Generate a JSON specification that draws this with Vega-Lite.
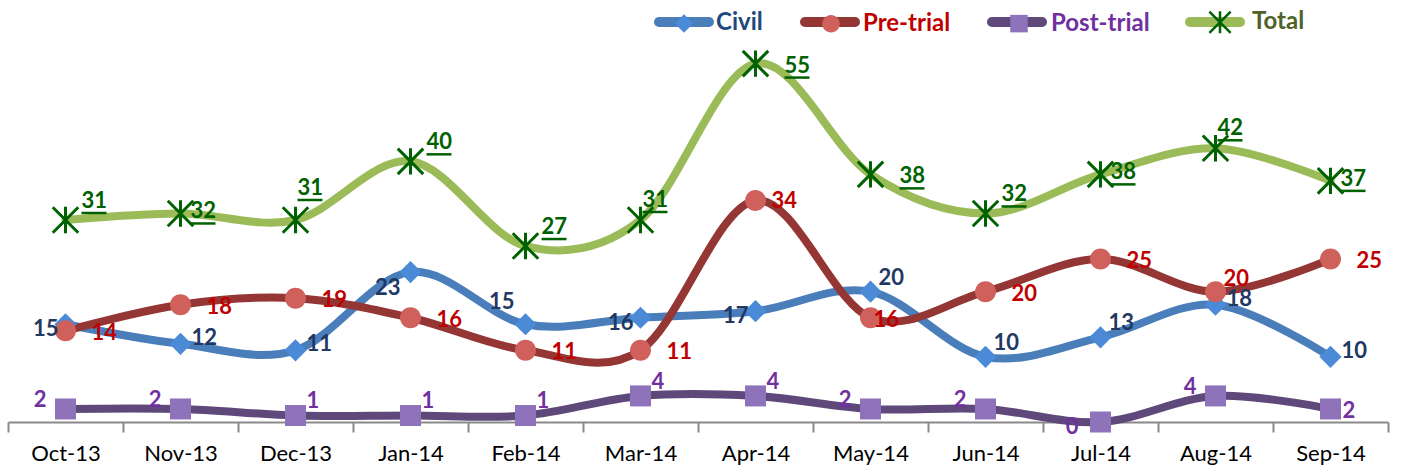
{
  "$schema": "https://vega.github.io/schema/vega-lite/v6.json",
  "width": 1380,
  "height": 391,
  "autosize": {"type": "none"},
  "padding": {"left": 8, "top": 31, "right": 14, "bottom": 51},
  "background": "white",
  "config": {"view": {"stroke": null}, "font": "Lato"},
  "data": {"values": [
    {"Month": "Oct-13", "Series": "Civil", "Value": 15},
    {"Month": "Nov-13", "Series": "Civil", "Value": 12},
    {"Month": "Dec-13", "Series": "Civil", "Value": 11},
    {"Month": "Jan-14", "Series": "Civil", "Value": 23},
    {"Month": "Feb-14", "Series": "Civil", "Value": 15},
    {"Month": "Mar-14", "Series": "Civil", "Value": 16},
    {"Month": "Apr-14", "Series": "Civil", "Value": 17},
    {"Month": "May-14", "Series": "Civil", "Value": 20},
    {"Month": "Jun-14", "Series": "Civil", "Value": 10},
    {"Month": "Jul-14", "Series": "Civil", "Value": 13},
    {"Month": "Aug-14", "Series": "Civil", "Value": 18},
    {"Month": "Sep-14", "Series": "Civil", "Value": 10},
    {"Month": "Oct-13", "Series": "Pre-trial", "Value": 14},
    {"Month": "Nov-13", "Series": "Pre-trial", "Value": 18},
    {"Month": "Dec-13", "Series": "Pre-trial", "Value": 19},
    {"Month": "Jan-14", "Series": "Pre-trial", "Value": 16},
    {"Month": "Feb-14", "Series": "Pre-trial", "Value": 11},
    {"Month": "Mar-14", "Series": "Pre-trial", "Value": 11},
    {"Month": "Apr-14", "Series": "Pre-trial", "Value": 34},
    {"Month": "May-14", "Series": "Pre-trial", "Value": 16},
    {"Month": "Jun-14", "Series": "Pre-trial", "Value": 20},
    {"Month": "Jul-14", "Series": "Pre-trial", "Value": 25},
    {"Month": "Aug-14", "Series": "Pre-trial", "Value": 20},
    {"Month": "Sep-14", "Series": "Pre-trial", "Value": 25},
    {"Month": "Oct-13", "Series": "Post-trial", "Value": 2},
    {"Month": "Nov-13", "Series": "Post-trial", "Value": 2},
    {"Month": "Dec-13", "Series": "Post-trial", "Value": 1},
    {"Month": "Jan-14", "Series": "Post-trial", "Value": 1},
    {"Month": "Feb-14", "Series": "Post-trial", "Value": 1},
    {"Month": "Mar-14", "Series": "Post-trial", "Value": 4},
    {"Month": "Apr-14", "Series": "Post-trial", "Value": 4},
    {"Month": "May-14", "Series": "Post-trial", "Value": 2},
    {"Month": "Jun-14", "Series": "Post-trial", "Value": 2},
    {"Month": "Jul-14", "Series": "Post-trial", "Value": 0},
    {"Month": "Aug-14", "Series": "Post-trial", "Value": 4},
    {"Month": "Sep-14", "Series": "Post-trial", "Value": 2},
    {"Month": "Oct-13", "Series": "Total", "Value": 31},
    {"Month": "Nov-13", "Series": "Total", "Value": 32},
    {"Month": "Dec-13", "Series": "Total", "Value": 31},
    {"Month": "Jan-14", "Series": "Total", "Value": 40},
    {"Month": "Feb-14", "Series": "Total", "Value": 27},
    {"Month": "Mar-14", "Series": "Total", "Value": 31},
    {"Month": "Apr-14", "Series": "Total", "Value": 55},
    {"Month": "May-14", "Series": "Total", "Value": 38},
    {"Month": "Jun-14", "Series": "Total", "Value": 32},
    {"Month": "Jul-14", "Series": "Total", "Value": 38},
    {"Month": "Aug-14", "Series": "Total", "Value": 42},
    {"Month": "Sep-14", "Series": "Total", "Value": 37}
  ]},
  "encoding": {
    "x": {
      "field": "Month", "type": "ordinal",
      "scale": {"type": "band", "paddingInner": 0, "paddingOuter": 0,
        "domain": ["Oct-13","Nov-13","Dec-13","Jan-14","Feb-14","Mar-14","Apr-14","May-14","Jun-14","Jul-14","Aug-14","Sep-14"]},
      "axis": {"title": null, "domainColor": "#898989", "domainWidth": 2, "ticks": true, "tickColor": "#898989", "tickWidth": 2, "tickSize": 10, "tickBand": "extent", "labelFont": "Lato", "labelFontSize": 22, "labelColor": "#000000", "labelPadding": 11, "labelAngle": 0, "grid": false}
    },
    "y": {"field": "Value", "type": "quantitative", "scale": {"domain": [0, 60], "nice": false}, "axis": null}
  },
  "layer": [
    {
      "mark": {"type": "line", "interpolate": "cardinal", "strokeWidth": 8, "strokeCap": "round", "strokeJoin": "round"},
      "encoding": {
        "stroke": {"field": "Series", "type": "nominal", "sort": null,
          "scale": {"range": ["#4A7EBB", "#943634", "#5F497A", "#9BBB59"]},
          "legend": {"title": null, "orient": "none", "legendX": 646, "legendY": -39, "direction": "horizontal", "symbolType": "stroke", "symbolSize": 2500, "symbolStrokeWidth": 10, "labelOpacity": 0, "labelFont": "Lato", "labelFontSize": 24, "labelFontWeight": "bold", "labelOffset": 2, "columnPadding": 22, "zindex": 1,
            "encode": {"symbols": {"update": {"strokeCap": {"value": "round"}}}}}
        }
      }
    },
    {
      "mark": {"type": "point", "filled": true, "size": 3600, "opacity": 1, "strokeWidth": 0},
      "encoding": {
        "fill": {"field": "Series", "type": "nominal",
          "scale": {"domain": ["Civil", "Pre-trial", "Post-trial", "Total"], "range": ["#4A8AD6", "#D0605C", "#8E72BA", "#006100"]},
          "legend": {"title": null, "orient": "none", "legendX": 646, "legendY": -39, "direction": "horizontal", "symbolSize": 2500, "symbolStrokeWidth": 10, "symbolStrokeColor": "transparent", "symbolOpacity": 1, "labelFont": "Lato", "labelFontSize": 24, "labelFontWeight": "bold", "labelOffset": 2, "columnPadding": 38, "zindex": 2,
            "encode": {"labels": {"update": {"fill": {"signal": "datum.value === 'Civil' ? '#1F497D' : datum.value === 'Pre-trial' ? '#C00000' : datum.value === 'Post-trial' ? '#7030A0' : '#4F6228'"}}}}}
        },
        "shape": {"field": "Series", "type": "nominal",
          "scale": {"domain": ["Civil", "Pre-trial", "Post-trial", "Total"], "range": [
            "M0,-0.37L0.37,0L0,0.37L-0.37,0Z",
            "M-0.35,0A0.35,0.35 0 1,0 0.35,0A0.35,0.35 0 1,0 -0.35,0Z",
            "M-0.35,-0.35H0.35V0.35H-0.35Z",
            "M-0.46,-0.39L0.39,0.46L0.46,0.39L-0.39,-0.46ZM-0.39,0.46L0.46,-0.39L0.39,-0.46L-0.46,0.39ZM-0.05,-0.44V0.44H0.05V-0.44Z"
          ]},
          "legend": {"title": null, "orient": "none", "legendX": 646, "legendY": -39, "direction": "horizontal", "symbolSize": 2500, "symbolStrokeWidth": 10, "symbolStrokeColor": "transparent", "symbolOpacity": 1, "labelFont": "Lato", "labelFontSize": 24, "labelFontWeight": "bold", "labelOffset": 2, "columnPadding": 38, "zindex": 2,
            "encode": {"labels": {"update": {"fill": {"signal": "datum.value === 'Civil' ? '#1F497D' : datum.value === 'Pre-trial' ? '#C00000' : datum.value === 'Post-trial' ? '#7030A0' : '#4F6228'"}}}}}
        }
      }
    },
    {
      "transform": [{"filter": {"and": [{"field": "Series", "equal": "Civil"}, {"field": "Month", "oneOf": ["Nov-13","Dec-13","Aug-14","Sep-14"]}]}}],
      "mark": {"type": "text", "align": "left", "baseline": "middle", "dx": 11, "dy": -6, "font": "Lato", "fontSize": 22, "fontWeight": "bold", "color": "#1F3864"},
      "encoding": {"text": {"field": "Value", "type": "quantitative"}}
    },
    {
      "transform": [{"filter": {"and": [{"field": "Series", "equal": "Civil"}, {"field": "Month", "oneOf": ["May-14","Jun-14","Jul-14"]}]}}],
      "mark": {"type": "text", "align": "left", "baseline": "middle", "dx": 8, "dy": -14, "font": "Lato", "fontSize": 22, "fontWeight": "bold", "color": "#1F3864"},
      "encoding": {"text": {"field": "Value", "type": "quantitative"}}
    },
    {
      "transform": [{"filter": {"and": [{"field": "Series", "equal": "Civil"}, {"field": "Month", "oneOf": ["Oct-13","Mar-14","Apr-14"]}]}}],
      "mark": {"type": "text", "align": "right", "baseline": "middle", "dx": -7, "dy": 5, "font": "Lato", "fontSize": 22, "fontWeight": "bold", "color": "#1F3864"},
      "encoding": {"text": {"field": "Value", "type": "quantitative"}}
    },
    {
      "transform": [{"filter": {"and": [{"field": "Series", "equal": "Civil"}, {"field": "Month", "equal": "Jan-14"}]}}],
      "mark": {"type": "text", "align": "right", "baseline": "middle", "dx": -10, "dy": 16, "font": "Lato", "fontSize": 22, "fontWeight": "bold", "color": "#1F3864"},
      "encoding": {"text": {"field": "Value", "type": "quantitative"}}
    },
    {
      "transform": [{"filter": {"and": [{"field": "Series", "equal": "Civil"}, {"field": "Month", "equal": "Feb-14"}]}}],
      "mark": {"type": "text", "align": "right", "baseline": "middle", "dx": -11, "dy": -22, "font": "Lato", "fontSize": 22, "fontWeight": "bold", "color": "#1F3864"},
      "encoding": {"text": {"field": "Value", "type": "quantitative"}}
    },
    {
      "transform": [{"filter": {"and": [{"field": "Series", "equal": "Pre-trial"}, {"field": "Month", "oneOf": ["Oct-13","Nov-13","Dec-13","Jan-14","Feb-14","Mar-14","Jun-14","Jul-14","Sep-14"]}]}}],
      "mark": {"type": "text", "align": "left", "baseline": "middle", "dx": 26, "dy": 2, "font": "Lato", "fontSize": 22, "fontWeight": "bold", "color": "#C00000"},
      "encoding": {"text": {"field": "Value", "type": "quantitative"}}
    },
    {
      "transform": [{"filter": {"and": [{"field": "Series", "equal": "Pre-trial"}, {"field": "Month", "equal": "Apr-14"}]}}],
      "mark": {"type": "text", "align": "left", "baseline": "middle", "dx": 16, "dy": 1, "font": "Lato", "fontSize": 22, "fontWeight": "bold", "color": "#C00000"},
      "encoding": {"text": {"field": "Value", "type": "quantitative"}}
    },
    {
      "transform": [{"filter": {"and": [{"field": "Series", "equal": "Pre-trial"}, {"field": "Month", "equal": "May-14"}]}}],
      "mark": {"type": "text", "align": "left", "baseline": "middle", "dx": 3, "dy": 2, "font": "Lato", "fontSize": 22, "fontWeight": "bold", "color": "#C00000"},
      "encoding": {"text": {"field": "Value", "type": "quantitative"}}
    },
    {
      "transform": [{"filter": {"and": [{"field": "Series", "equal": "Pre-trial"}, {"field": "Month", "equal": "Aug-14"}]}}],
      "mark": {"type": "text", "align": "left", "baseline": "middle", "dx": 8, "dy": -13, "font": "Lato", "fontSize": 22, "fontWeight": "bold", "color": "#C00000"},
      "encoding": {"text": {"field": "Value", "type": "quantitative"}}
    },
    {
      "transform": [{"filter": {"and": [{"field": "Series", "equal": "Post-trial"}, {"field": "Month", "oneOf": ["Oct-13","Nov-13","May-14","Jun-14","Aug-14"]}]}}],
      "mark": {"type": "text", "align": "right", "baseline": "middle", "dx": -19, "dy": -9, "font": "Lato", "fontSize": 22, "fontWeight": "bold", "color": "#7030A0"},
      "encoding": {"text": {"field": "Value", "type": "quantitative"}}
    },
    {
      "transform": [{"filter": {"and": [{"field": "Series", "equal": "Post-trial"}, {"field": "Month", "equal": "Jul-14"}]}}],
      "mark": {"type": "text", "align": "right", "baseline": "middle", "dx": -22, "dy": 5, "font": "Lato", "fontSize": 22, "fontWeight": "bold", "color": "#7030A0"},
      "encoding": {"text": {"field": "Value", "type": "quantitative"}}
    },
    {
      "transform": [{"filter": {"and": [{"field": "Series", "equal": "Post-trial"}, {"field": "Month", "oneOf": ["Dec-13","Jan-14","Feb-14","Mar-14","Apr-14"]}]}}],
      "mark": {"type": "text", "align": "left", "baseline": "middle", "dx": 11, "dy": -14, "font": "Lato", "fontSize": 22, "fontWeight": "bold", "color": "#7030A0"},
      "encoding": {"text": {"field": "Value", "type": "quantitative"}}
    },
    {
      "transform": [{"filter": {"and": [{"field": "Series", "equal": "Post-trial"}, {"field": "Month", "equal": "Sep-14"}]}}],
      "mark": {"type": "text", "align": "left", "baseline": "middle", "dx": 12, "dy": 2, "font": "Lato", "fontSize": 22, "fontWeight": "bold", "color": "#7030A0"},
      "encoding": {"text": {"field": "Value", "type": "quantitative"}}
    },
    {
      "transform": [{"filter": {"and": [{"field": "Series", "equal": "Total"}, {"field": "Month", "oneOf": ["Oct-13","Jan-14","Feb-14","Jun-14"]}]}}],
      "mark": {"type": "text", "align": "left", "baseline": "middle", "dx": 16, "dy": -19, "font": "Lato", "fontSize": 22, "fontWeight": "bold", "color": "#006100"},
      "encoding": {"text": {"field": "Value", "type": "quantitative"}}
    },
    {
      "transform": [{"filter": {"and": [{"field": "Series", "equal": "Total"}, {"field": "Month", "oneOf": ["Oct-13","Jan-14","Feb-14","Jun-14"]}]}}],
      "mark": {"type": "tick", "orient": "horizontal", "size": 25, "thickness": 2.5, "xOffset": 28.5, "yOffset": -7, "color": "#006100", "opacity": 1},
      "encoding": {}
    },
    {
      "transform": [{"filter": {"and": [{"field": "Series", "equal": "Total"}, {"field": "Month", "oneOf": ["Mar-14","Aug-14"]}]}}],
      "mark": {"type": "text", "align": "left", "baseline": "middle", "dx": 2, "dy": -20, "font": "Lato", "fontSize": 22, "fontWeight": "bold", "color": "#006100"},
      "encoding": {"text": {"field": "Value", "type": "quantitative"}}
    },
    {
      "transform": [{"filter": {"and": [{"field": "Series", "equal": "Total"}, {"field": "Month", "oneOf": ["Mar-14","Aug-14"]}]}}],
      "mark": {"type": "tick", "orient": "horizontal", "size": 25, "thickness": 2.5, "xOffset": 14.5, "yOffset": -8, "color": "#006100", "opacity": 1},
      "encoding": {}
    },
    {
      "transform": [{"filter": {"and": [{"field": "Series", "equal": "Total"}, {"field": "Month", "equal": "Dec-13"}]}}],
      "mark": {"type": "text", "align": "left", "baseline": "middle", "dx": 2, "dy": -32, "font": "Lato", "fontSize": 22, "fontWeight": "bold", "color": "#006100"},
      "encoding": {"text": {"field": "Value", "type": "quantitative"}}
    },
    {
      "transform": [{"filter": {"and": [{"field": "Series", "equal": "Total"}, {"field": "Month", "equal": "Dec-13"}]}}],
      "mark": {"type": "tick", "orient": "horizontal", "size": 25, "thickness": 2.5, "xOffset": 14.5, "yOffset": -20, "color": "#006100", "opacity": 1},
      "encoding": {}
    },
    {
      "transform": [{"filter": {"and": [{"field": "Series", "equal": "Total"}, {"field": "Month", "oneOf": ["Apr-14","May-14"]}]}}],
      "mark": {"type": "text", "align": "left", "baseline": "middle", "dx": 29, "dy": 2, "font": "Lato", "fontSize": 22, "fontWeight": "bold", "color": "#006100"},
      "encoding": {"text": {"field": "Value", "type": "quantitative"}}
    },
    {
      "transform": [{"filter": {"and": [{"field": "Series", "equal": "Total"}, {"field": "Month", "oneOf": ["Apr-14","May-14"]}]}}],
      "mark": {"type": "tick", "orient": "horizontal", "size": 25, "thickness": 2.5, "xOffset": 41.5, "yOffset": 14, "color": "#006100", "opacity": 1},
      "encoding": {}
    },
    {
      "transform": [{"filter": {"and": [{"field": "Series", "equal": "Total"}, {"field": "Month", "oneOf": ["Nov-13","Jul-14","Sep-14"]}]}}],
      "mark": {"type": "text", "align": "left", "baseline": "middle", "dx": 10, "dy": -2, "font": "Lato", "fontSize": 22, "fontWeight": "bold", "color": "#006100"},
      "encoding": {"text": {"field": "Value", "type": "quantitative"}}
    },
    {
      "transform": [{"filter": {"and": [{"field": "Series", "equal": "Total"}, {"field": "Month", "oneOf": ["Nov-13","Jul-14","Sep-14"]}]}}],
      "mark": {"type": "tick", "orient": "horizontal", "size": 25, "thickness": 2.5, "xOffset": 22.5, "yOffset": 10, "color": "#006100", "opacity": 1},
      "encoding": {}
    }
  ]
}
